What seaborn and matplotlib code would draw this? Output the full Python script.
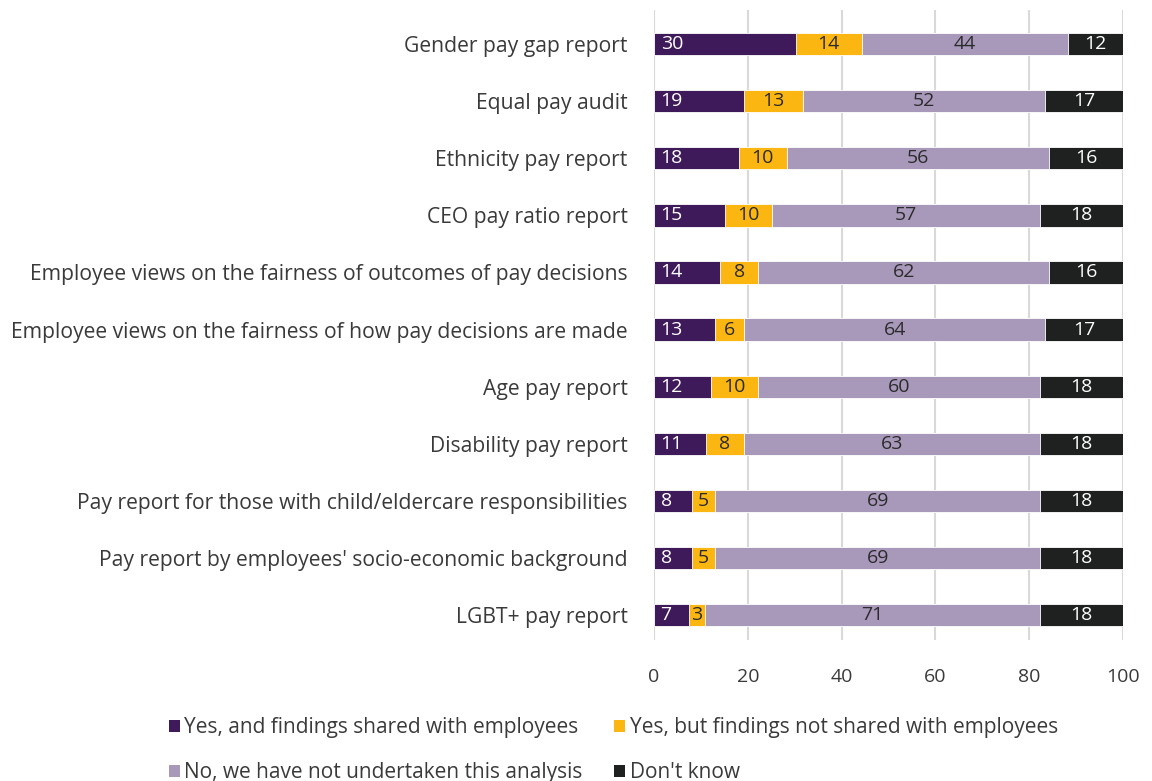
import matplotlib
matplotlib.use("Agg")
import matplotlib.pyplot as plt
import seaborn as sns
import pandas as pd
import numpy as np
from matplotlib.patches import Patch

categories = [
    "Gender pay gap report",
    "Equal pay audit",
    "Ethnicity pay report",
    "CEO pay ratio report",
    "Employee views on the fairness of outcomes of pay decisions",
    "Employee views on the fairness of how pay decisions are made",
    "Age pay report",
    "Disability pay report",
    "Pay report for those with child/eldercare responsibilities",
    "Pay report by employees' socio-economic background",
    "LGBT+ pay report",
]
yes_shared = [30.2, 19.2, 18.1, 15.1, 14.1, 13.1, 12.1, 11.1, 8.1, 8.1, 7.4]
yes_not_shared = [14.1, 12.6, 10.2, 10.1, 8.1, 6.1, 10.1, 8.1, 5.0, 5.0, 3.4]
not_undertaken = [44.0, 51.6, 56.0, 57.2, 62.1, 64.2, 60.2, 63.2, 69.3, 69.3, 71.4]
dont_know = [11.7, 16.6, 15.7, 17.6, 15.7, 16.6, 17.6, 17.6, 17.6, 17.6, 17.8]

series_names = [
    "Yes, and findings shared with employees",
    "Yes, but findings not shared with employees",
    "No, we have not undertaken this analysis",
    "Don't know",
]
colors = ["#3F1A5A", "#FBB612", "#A899BB", "#1F2120"]
text_colors = ["white", "#2b2b2b", "#2b2b2b", "white"]

sns.set_theme(style="white")
plt.rcParams["font.family"] = ["Open Sans", "DejaVu Sans"]
txt = "#3a3a3a"

df = pd.DataFrame({
    "category": categories,
    series_names[0]: yes_shared,
    series_names[1]: yes_not_shared,
    series_names[2]: not_undertaken,
    series_names[3]: dont_know,
})
vals = df[series_names].to_numpy(dtype=float)
cum = np.cumsum(vals, axis=1)

fig = plt.figure(figsize=(11.52, 7.81), dpi=100)
ax = fig.add_axes([654 / 1152, 1 - 640 / 781, (1123 - 654) / 1152, (640 - 10) / 781])

# draw cumulative bars from the longest to the shortest
for i in reversed(range(4)):
    d = pd.DataFrame({"category": categories, "value": cum[:, i]})
    sns.barplot(data=d, x="value", y="category", color=colors[i], ax=ax,
                width=0.39, saturation=1, edgecolor="white", linewidth=0.6,
                order=categories)

# value labels
for r in range(len(categories)):
    for i in range(4):
        v = vals[r, i]
        start = cum[r, i] - v
        if i == 0:
            x = start + 1.4
            ha = "left"
        else:
            x = start + v / 2
            ha = "center"
        ax.text(x, r, f"{v:.0f}", ha=ha, va="center", color=text_colors[i],
                fontsize=14)

ax.set_xlim(0, 100)
ax.set_ylim(10.44, -0.6)
ax.set_xticks([0, 20, 40, 60, 80, 100])
ax.xaxis.grid(True, color="#D9D9D9", linewidth=1.5)
ax.set_axisbelow(True)
for s in ax.spines.values():
    s.set_visible(False)
ax.set_xlabel("")
ax.set_ylabel("")
ax.tick_params(axis="x", length=0, pad=20, labelsize=14, labelcolor=txt)
ax.tick_params(axis="y", length=0, pad=19, labelsize=15.2, labelcolor=txt)

handles = [Patch(facecolor=c, edgecolor="none") for c in colors]
order = [0, 2, 1, 3]  # legend fills row by row
fig.legend([handles[k] for k in order], [series_names[k] for k in order],
           loc="lower left", bbox_to_anchor=(150 / 1152, -0.027),
           ncol=2, frameon=False, fontsize=15, labelcolor=txt,
           handlelength=0.55, handleheight=0.55, handletextpad=0.2,
           columnspacing=1.5, labelspacing=1.15)

fig.savefig("out.png", dpi=100)
